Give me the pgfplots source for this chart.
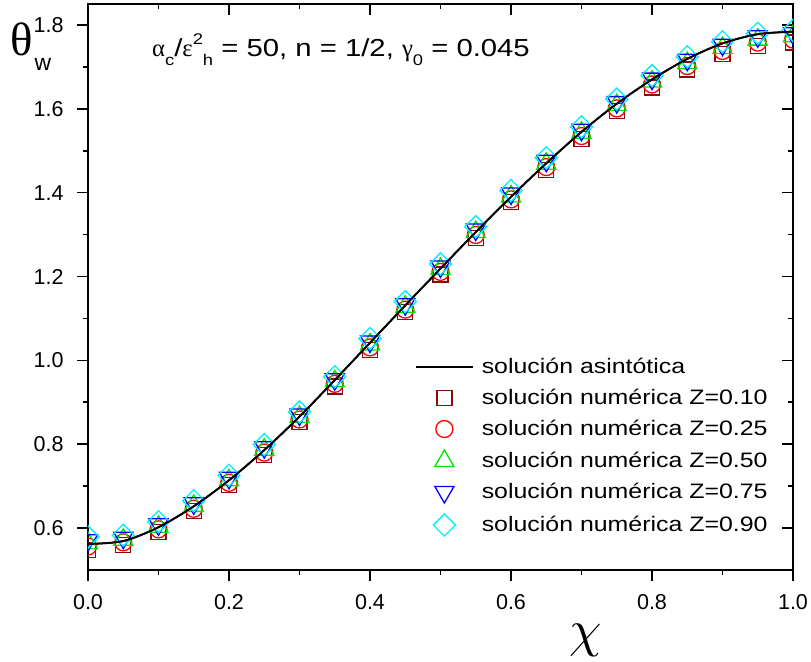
\documentclass[border=0pt]{standalone}
\usepackage{fontspec}
\setmainfont{Liberation Sans}
\newfontfamily\serifgr{Liberation Serif}
\newfontfamily\legfont{Liberation Sans}[FakeStretch=1.19]
\usepackage{pgfplots}
\usepackage{pgfplotstable}
\pgfplotsset{compat=1.18}

\definecolor{sqc}{RGB}{140,10,10}
\definecolor{cic}{RGB}{255,0,0}
\definecolor{tuc}{RGB}{0,230,0}
\definecolor{tdc}{RGB}{0,0,255}
\definecolor{dic}{RGB}{0,240,255}

\pgfplotstableread{
x     sq     ci     tu     td     di
0.00  0.548  0.556  0.564  0.571  0.579
0.05  0.560  0.566  0.572  0.577  0.583
0.10  0.591  0.597  0.603  0.609  0.615
0.15  0.640  0.646  0.653  0.659  0.665
0.20  0.702  0.708  0.714  0.720  0.726
0.25  0.774  0.780  0.787  0.793  0.799
0.30  0.853  0.859  0.865  0.871  0.877
0.35  0.938  0.944  0.950  0.955  0.961
0.40  1.024  1.031  1.038  1.045  1.052
0.45  1.115  1.121  1.128  1.134  1.140
0.50  1.205  1.211  1.218  1.224  1.230
0.55  1.292  1.299  1.306  1.312  1.319
0.60  1.377  1.384  1.391  1.398  1.405
0.65  1.454  1.461  1.469  1.476  1.483
0.70  1.528  1.535  1.543  1.550  1.557
0.75  1.594  1.601  1.609  1.616  1.623
0.80  1.651  1.658  1.665  1.672  1.679
0.85  1.694  1.702  1.709  1.717  1.724
0.90  1.730  1.738  1.745  1.753  1.760
0.95  1.750  1.758  1.765  1.773  1.780
1.00  1.758  1.765  1.773  1.780  1.787
}\numdata

\pgfplotstableread{
x     y
0.00  0.562
0.05  0.569
0.10  0.602
0.15  0.652
0.20  0.714
0.25  0.786
0.30  0.866
0.35  0.953
0.40  1.042
0.45  1.131
0.50  1.219
0.55  1.306
0.60  1.390
0.65  1.470
0.70  1.545
0.75  1.612
0.80  1.670
0.85  1.719
0.90  1.756
0.95  1.778
1.00  1.784
}\asym

\pgfplotsset{
  base/.style={
    at={(0bp,0bp)}, anchor=south west,
    width=705bp, height=566bp, scale only axis,
    xmin=0, xmax=1, ymin=0.5, ymax=1.85,
    xtick={0,0.2,0.4,0.6,0.8,1.0},
    ytick={0.6,0.8,1.0,1.2,1.4,1.6,1.8},
    minor x tick num=1, minor y tick num=1,
    major tick length=11bp, minor tick length=5bp,
    every tick/.style={black, line width=1.6bp},
    axis line style={line width=2.4bp},
  }
}

\begin{document}
\begin{tikzpicture}
\useasboundingbox (-88bp,-92bp) rectangle (723bp,570bp);
% inward ticks on top and right
\begin{axis}[base,
    tick align=inside, xtick pos=right, ytick pos=right,
    xticklabels={}, yticklabels={},
]
\end{axis}
\begin{axis}[base,
    tick align=outside, xtick pos=left, ytick pos=left,
    tick label style={font=\fontsize{21.6}{26}\selectfont},
    yticklabel style={xshift=-10bp},
    xticklabel style={yshift=-10bp},
    /pgf/number format/.cd, fixed, fixed zerofill, precision=1, assume math mode=true,
    /pgfplots/.cd,
    clip marker paths=true,
    xlabel={\scalebox{5.2}{$\chi$}},
    xlabel style={at={(axis description cs:0.7064,-0.1237)}, anchor=center, inner sep=0pt},
    legend cell align=left,
    legend image code/.code={%
      \path (0bp,0bp) (57bp,0bp);
      \draw[mark repeat=2,mark phase=2,#1] plot coordinates {(0bp,0bp) (28.5bp,0bp) (57bp,0bp)};},
    legend style={at={(axis description cs:0.4638,0.3763)}, anchor=north west,
      draw=none, fill=none, inner sep=0pt, outer sep=0pt,
      font=\fontsize{21}{25}\legfont, row sep=11bp, column sep=8bp,
      nodes={inner xsep=0bp, inner ysep=0bp, text height=16bp, text depth=4bp}},
]
\addplot[black, line width=1.8bp, smooth] table[x=x, y=y] {\asym};
\addlegendentry{solución asintótica}
\addplot[only marks, mark=square, mark size=7.5bp, draw=sqc, mark options={line width=1.3bp}] table[x=x, y=sq] {\numdata};
\addlegendentry{solución numérica Z=0.10}
\addplot[only marks, mark=o, mark size=8.5bp, draw=cic, mark options={line width=1.3bp}] table[x=x, y=ci] {\numdata};
\addlegendentry{solución numérica Z=0.25}
\addplot[only marks, mark=triangle, mark size=11bp, draw=tuc, mark options={line width=1.3bp}] table[x=x, y=tu] {\numdata};
\addlegendentry{solución numérica Z=0.50}
\addplot[only marks, mark=triangle, mark size=11bp, draw=tdc, mark options={line width=1.3bp, rotate=180}] table[x=x, y=td] {\numdata};
\addlegendentry{solución numérica Z=0.75}
\addplot[only marks, mark=square, mark size=7.8bp, draw=dic, mark options={line width=1.3bp, rotate=45}] table[x=x, y=di] {\numdata};
\addlegendentry{solución numérica Z=0.90}
\addplot[black, line width=1.8bp, smooth, forget plot] table[x=x, y=y] {\asym};
\node[anchor=base west, inner sep=0pt] at (axis description cs:0.0908,0.9064) {\fontsize{24.7}{29}\legfont
  {\serifgr α}\raisebox{-0.33em}{\fontsize{15.5}{15.5}\legfont c}/{\serifgr ε}\raisebox{0.5em}{\fontsize{15.5}{15.5}\legfont 2}\raisebox{-0.33em}{\fontsize{15.5}{15.5}\legfont h} = 50, n = 1/2, {\serifgr γ}\raisebox{-0.33em}{\fontsize{15.5}{15.5}\legfont 0} = 0.045};
\end{axis}
\node[anchor=center, inner sep=0pt] at (-66bp,531bp) {\fontsize{47}{47}\serifgr θ};
\node[anchor=center, inner sep=0pt] at (-45bp,506bp) {\fontsize{23}{23}\selectfont w};
\end{tikzpicture}
\end{document}
